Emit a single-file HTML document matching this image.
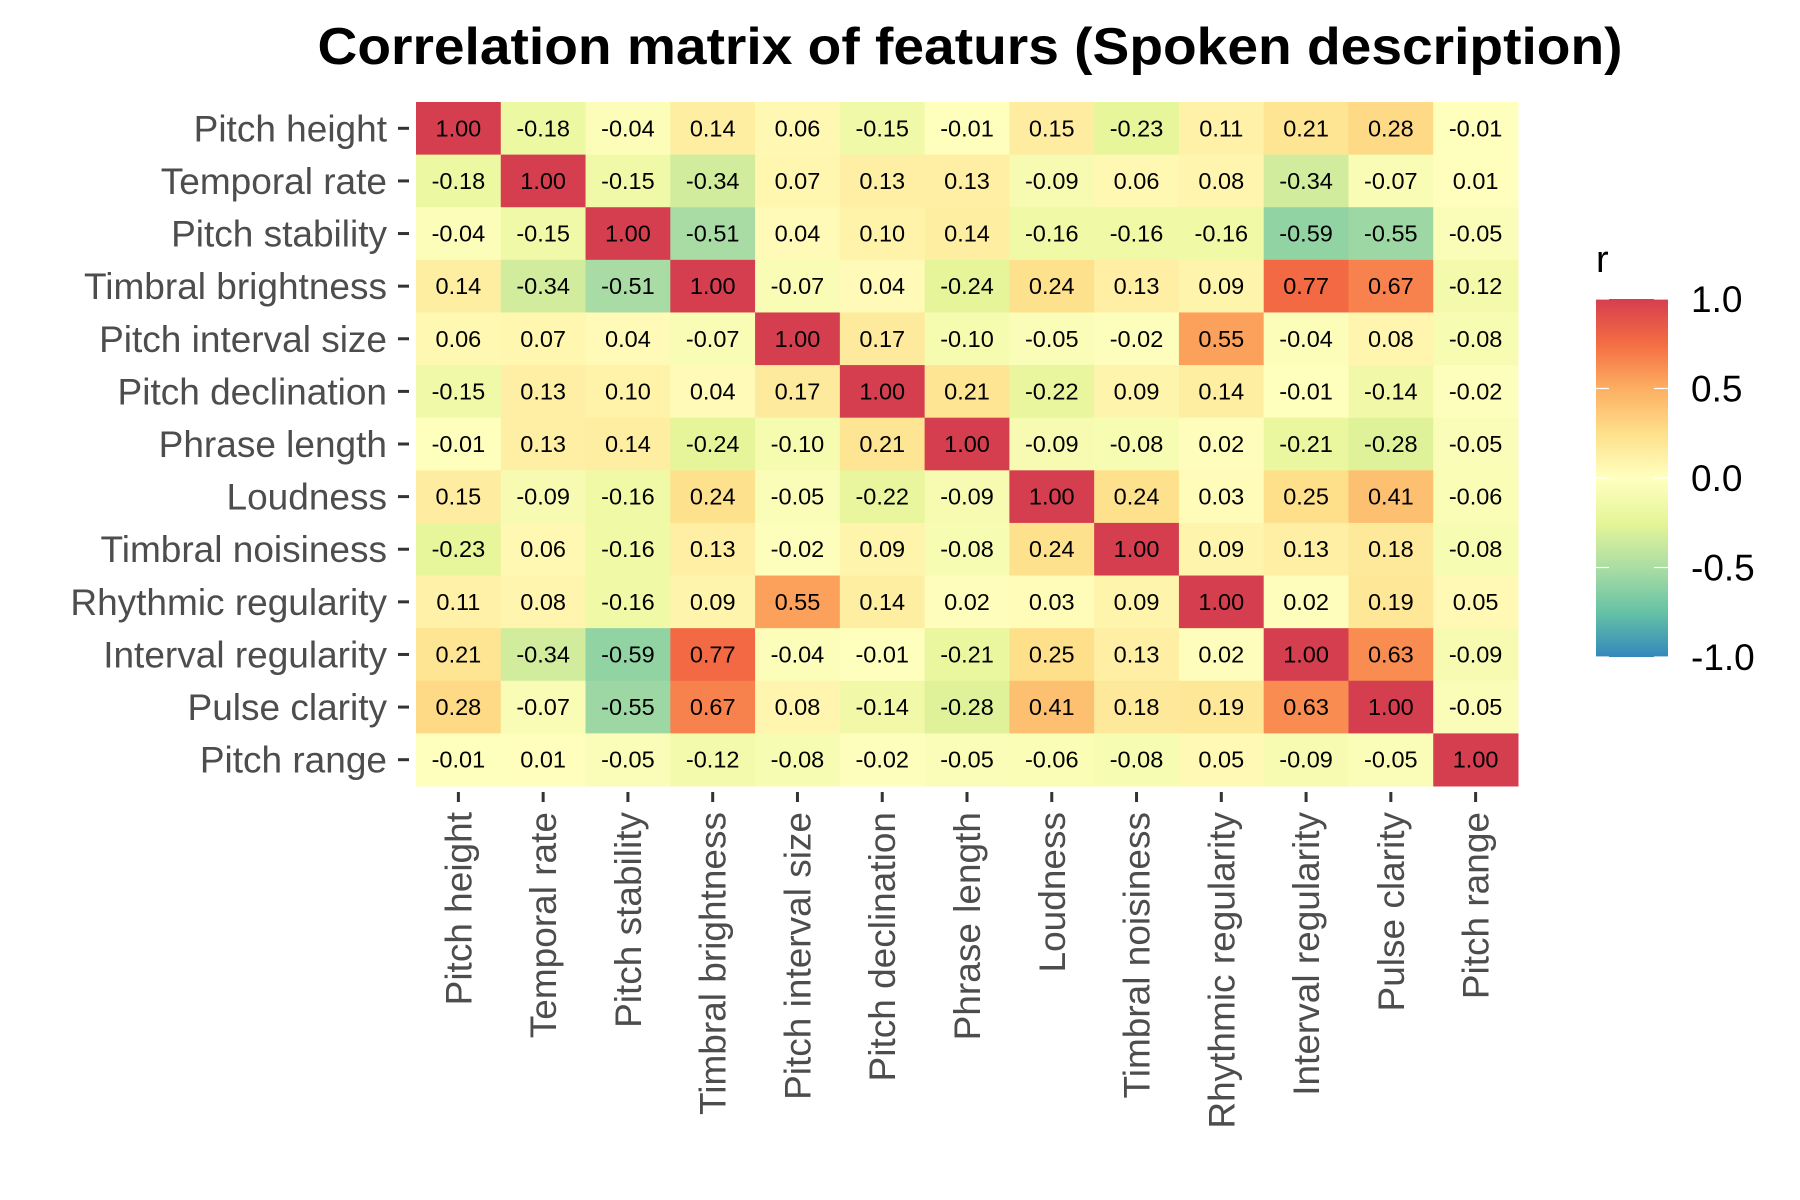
<!DOCTYPE html>
<html><head><meta charset="utf-8"><style>
html,body{margin:0;padding:0;background:#fff}
svg{display:block;font-family:"Liberation Sans",Arial,sans-serif}
</style></head><body>
<svg id="chart" width="1800" height="1200" viewBox="0 0 1800 1200">
<defs>
<linearGradient id="cbar" x1="0" y1="1" x2="0" y2="0">
<stop offset="0" stop-color="#3288BD"/><stop offset="0.125" stop-color="#66C2A5"/><stop offset="0.25" stop-color="#ABDDA4"/><stop offset="0.375" stop-color="#E6F598"/><stop offset="0.5" stop-color="#FFFFBF"/><stop offset="0.625" stop-color="#FEE08B"/><stop offset="0.75" stop-color="#FDAE61"/><stop offset="0.875" stop-color="#F46D43"/><stop offset="1" stop-color="#D53E4F"/>
</linearGradient>
</defs>
<text x="970" y="64" text-anchor="middle" font-size="52" font-weight="bold" fill="#000" textLength="1305" lengthAdjust="spacingAndGlyphs">Correlation matrix of featurs (Spoken description)</text>
<g id="cells"></g>
<g id="ylabels"></g>
<g id="xlabels"></g>
<g id="legend">
<text x="1596" y="272" font-size="38" fill="#000">r</text>
<rect x="1596" y="299" width="72" height="358" fill="url(#cbar)"/>
<g id="legticks"></g>
</g>
</svg>
<script>
const labels = ["Pitch height","Temporal rate","Pitch stability","Timbral brightness","Pitch interval size","Pitch declination","Phrase length","Loudness","Timbral noisiness","Rhythmic regularity","Interval regularity","Pulse clarity","Pitch range"];
const r0 = [1.00,-0.18,-0.04,0.14,0.06,-0.15,-0.01,0.15,-0.23,0.11,0.21,0.28,-0.01];
const r1 = [-0.18,1.00,-0.15,-0.34,0.07,0.13,0.13,-0.09,0.06,0.08,-0.34,-0.07,0.01];
const r2 = [-0.04,-0.15,1.00,-0.51,0.04,0.10,0.14,-0.16,-0.16,-0.16,-0.59,-0.55,-0.05];
const r3 = [0.14,-0.34,-0.51,1.00,-0.07,0.04,-0.24,0.24,0.13,0.09,0.77,0.67,-0.12];
const r4 = [0.06,0.07,0.04,-0.07,1.00,0.17,-0.10,-0.05,-0.02,0.55,-0.04,0.08,-0.08];
const r5 = [-0.15,0.13,0.10,0.04,0.17,1.00,0.21,-0.22,0.09,0.14,-0.01,-0.14,-0.02];
const r6 = [-0.01,0.13,0.14,-0.24,-0.10,0.21,1.00,-0.09,-0.08,0.02,-0.21,-0.28,-0.05];
const r7 = [0.15,-0.09,-0.16,0.24,-0.05,-0.22,-0.09,1.00,0.24,0.03,0.25,0.41,-0.06];
const r8 = [-0.23,0.06,-0.16,0.13,-0.02,0.09,-0.08,0.24,1.00,0.09,0.13,0.18,-0.08];
const r9 = [0.11,0.08,-0.16,0.09,0.55,0.14,0.02,0.03,0.09,1.00,0.02,0.19,0.05];
const r10 = [0.21,-0.34,-0.59,0.77,-0.04,-0.01,-0.21,0.25,0.13,0.02,1.00,0.63,-0.09];
const r11 = [0.28,-0.07,-0.55,0.67,0.08,-0.14,-0.28,0.41,0.18,0.19,0.63,1.00,-0.05];
const r12 = [-0.01,0.01,-0.05,-0.12,-0.08,-0.02,-0.05,-0.06,-0.08,0.05,-0.09,-0.05,1.00];
const legendTicks = [1.0,0.5,0.0,-0.5,-1.0];
const legendTickLabels = ["1.0","0.5","0.0","-0.5","-1.0"];
const matrix = [r0,r1,r2,r3,r4,r5,r6,r7,r8,r9,r10,r11,r12];

const NS = "http://www.w3.org/2000/svg";
const PL = 416, PR = 1518, PT = 102, PB = 786;
const n = labels.length;
const cw = (PR-PL)/n, ch = (PB-PT)/n;
const xPos = i => PL + i*cw;
const yPos = j => PT + j*ch;
const legY = v => 657 - (v+1)/2*358;
const pal = ["#3288BD","#66C2A5","#ABDDA4","#E6F598","#FFFFBF","#FEE08B","#FDAE61","#F46D43","#D53E4F"];
function hex(h){return [1,3,5].map(k=>parseInt(h.substr(k,2),16));}
function color(v){
  let t = (Math.max(-1,Math.min(1,v))+1)/2*(pal.length-1);
  let i = Math.min(pal.length-2, Math.floor(t)), f = t-i;
  const a = hex(pal[i]), b = hex(pal[i+1]);
  return "rgb("+a.map((c,k)=>Math.round(c+(b[k]-c)*f)).join(",")+")";
}
function mk(tag, attrs, parent){const e=document.createElementNS(NS,tag);for(const k in attrs)e.setAttribute(k,attrs[k]);parent.appendChild(e);return e;}

const cells = document.getElementById("cells");
matrix.forEach((row,j)=>{
  row.forEach((v,i)=>{
    const r = mk("rect",{x:xPos(i),y:yPos(j),width:cw+0.5,height:ch+0.5,fill:color(v)},cells);
    
    
    const t = mk("text",{x:xPos(i)+cw/2,y:yPos(j)+ch/2+8,"text-anchor":"middle","font-size":"23.5",fill:"#000"},cells);
    
    
    t.textContent = v.toFixed(2);
  });
});
const yl = document.getElementById("ylabels");
labels.forEach((lab,j)=>{
  const cy = yPos(j)+ch/2;
  const t = mk("text",{x:387,y:cy+13,"text-anchor":"end","font-size":"37",fill:"#4d4d4d"},yl);
  
  
  t.textContent = lab;
  const tk = mk("line",{x1:398,x2:409,y1:cy,y2:cy,stroke:"#333","stroke-width":"3"},yl);
  
  
});
const xl = document.getElementById("xlabels");
labels.forEach((lab,i)=>{
  const cx = xPos(i)+cw/2;
  const tk = mk("line",{x1:cx,x2:cx,y1:792,y2:802,stroke:"#333","stroke-width":"3"},xl);
  
  
  const t = mk("text",{x:0,y:0,"text-anchor":"end","font-size":"37",fill:"#4d4d4d",transform:"translate("+(cx+13)+",812) rotate(-90)"},xl);
  
  
  t.textContent = lab;
});
const lt = document.getElementById("legticks");
legendTicks.forEach((v,k)=>{
  const y = legY(v);
  const a = mk("line",{x1:1596,x2:1609,y1:y,y2:y,stroke:"#fff","stroke-width":"1.2"},lt);
  
  
  const b = mk("line",{x1:1654,x2:1668,y1:y,y2:y,stroke:"#fff","stroke-width":"1.2"},lt);
  
  
  const t = mk("text",{x:1691,y:y+13,"font-size":"37",fill:"#000"},lt);
  
  
  t.textContent = legendTickLabels[k];
});
</script>
</body></html>
